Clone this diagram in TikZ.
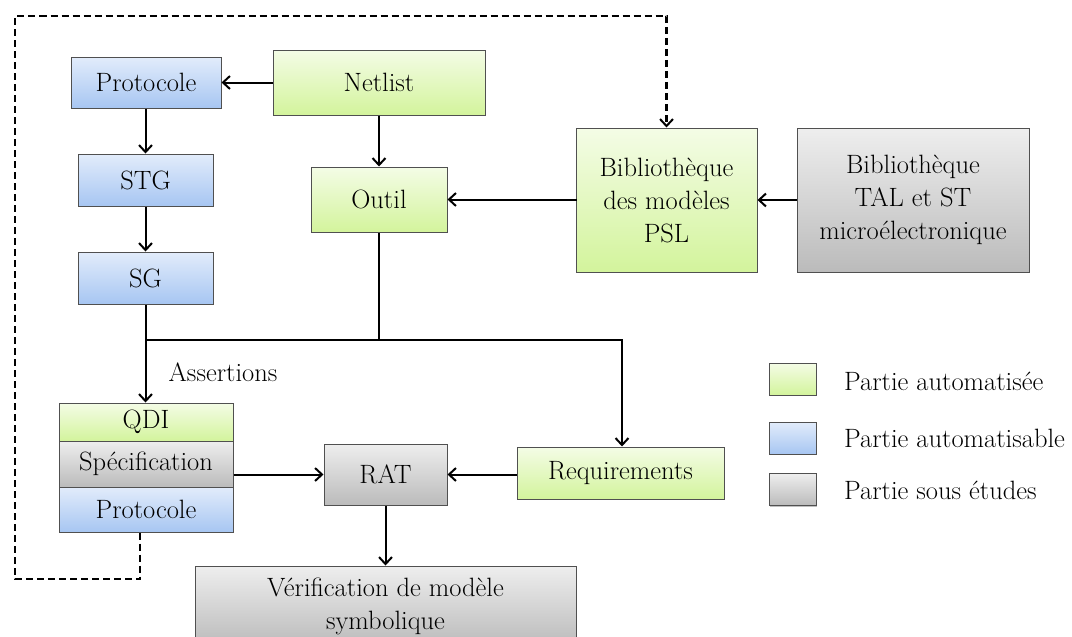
\documentclass[tikz,border=0pt]{standalone}
\usepackage{fontspec}
\usetikzlibrary{arrows.meta,shadows}
\definecolor{gtop}{HTML}{F4FCE6}
\definecolor{gbot}{HTML}{D3F49C}
\definecolor{btop}{HTML}{E2ECFB}
\definecolor{bbot}{HTML}{A7C6F2}
\definecolor{ytop}{HTML}{EEEEEE}
\definecolor{ybot}{HTML}{BBBBBB}
\definecolor{edge}{HTML}{505050}
\tikzset{
  box/.style={rectangle, draw=edge, line width=1pt, inner sep=0pt, align=center,
    drop shadow={shadow xshift=1.2pt, shadow yshift=-1.2pt, opacity=0.25, fill=black}},
  gbox/.style={box, top color=gtop, bottom color=gbot},
  bbox/.style={box, top color=btop, bottom color=bbot},
  ybox/.style={box, top color=ytop, bottom color=ybot},
  sz/.style 2 args={minimum width=#1pt, minimum height=#2pt},
  tip/.style={-{Straight Barb[length=7pt,width=13pt,line width=2pt]}},
  arr/.style={draw=black, line width=2pt, tip},
  ln/.style={draw=black, line width=2pt},
  dsh/.style={draw=black, line width=2.6pt, dash pattern=on 7pt off 4pt},
  lbl/.style={inner sep=0pt, anchor=west}
}
\begin{document}
\begin{tikzpicture}[x=1pt, y=-1pt, font=\rmfamily\fontsize{26.5}{33}\selectfont]
\useasboundingbox (0,0) rectangle (1072,637);
\fill[white] (0,0) rectangle (1072,637);
\clip (0,0) rectangle (1072,637);

% nodes
\node[bbox, sz={150}{51}] (proto) at (146,82.5) {Protocole};
\node[gbox, sz={212}{65}] (netlist) at (379,82.5) {Netlist};
\node[bbox, sz={135}{52}] (stg) at (145.5,180) {STG};
\node[bbox, sz={135}{52}] (sg) at (145.5,278) {SG};
\node[gbox, sz={136}{65}] (outil) at (379,199.5) {Outil};
\node[gbox, sz={181}{144}] (bibpsl) at (666.5,200) {Biblioth\`eque\\des mod\`eles\\PSL};
\node[ybox, sz={232}{144}] (bibtal) at (913,200) {Biblioth\`eque\\TAL et ST\\micro\'electronique};

\node[gbox, sz={174}{38}] (qdi) at (146,422) {QDI};
\node[ybox, sz={174}{46}] (spec) at (146,464) {Sp\'ecification};
\node[bbox, sz={174}{45}] (proto2) at (146,509.5) {Protocole};

\node[ybox, sz={123}{61}] (rat) at (385.5,474.5) {RAT};
\node[gbox, sz={207}{52}] (req) at (620.5,473) {Requirements};
\node[ybox, sz={381}{80}] (verif) at (385.5,606) {V\'erification de mod\`ele\\symbolique};

\node[inner sep=0pt] (assert) at (223,372) {Assertions};

% legend
\node[gbox, sz={47}{32}] (lg1) at (792.5,379) {};
\node[bbox, sz={47}{32}] (lg2) at (792.5,438) {};
\node[ybox, sz={47}{32}] (lg3) at (792.5,489.5) {};
\node[lbl] (lt1) at (844,381) {Partie automatis\'ee};
\node[lbl] (lt2) at (844,438) {Partie automatisable};
\node[lbl] (lt3) at (844,490) {Partie sous \'etudes};

% connectors
\draw[arr] (netlist.west) -- (proto.east);
\draw[arr] (proto.south -| stg.north) -- (stg.north);
\draw[arr] (stg.south) -- (sg.north);
\draw[arr] (netlist.south) -- (outil.north);
\draw[arr] (bibpsl.west) -- (outil.east -| bibpsl.west) -- (outil.east);
\draw[arr] (bibtal.west) -- (bibpsl.east);
\draw[arr] (sg.south) -- (sg.south |- qdi.north);
\coordinate (j) at (379,340);
\draw[ln] (outil.south) -- (j);
\draw[ln] (j) -- (sg.south |- j);
\draw[arr] (j) -| ([xshift=1.5pt]req.north);
\draw[arr] (rat.west -| spec.east) -- (rat.west);
\draw[arr] (req.west |- rat.east) -- (rat.east);
\draw[arr] (rat.south) -- (verif.north -| rat.south);

% dashed feedback loop
\coordinate (d0) at ([xshift=-6pt]proto2.south);
\coordinate (d1) at (140,579);
\coordinate (d2) at (15,579);
\coordinate (d3) at (15,16);
\coordinate (d4) at (666.5,16);
\draw[dsh, tip] (d0) -- (d1) -- (d2) -- (d3) -- (d4) -- (bibpsl.north);
\end{tikzpicture}
\end{document}
